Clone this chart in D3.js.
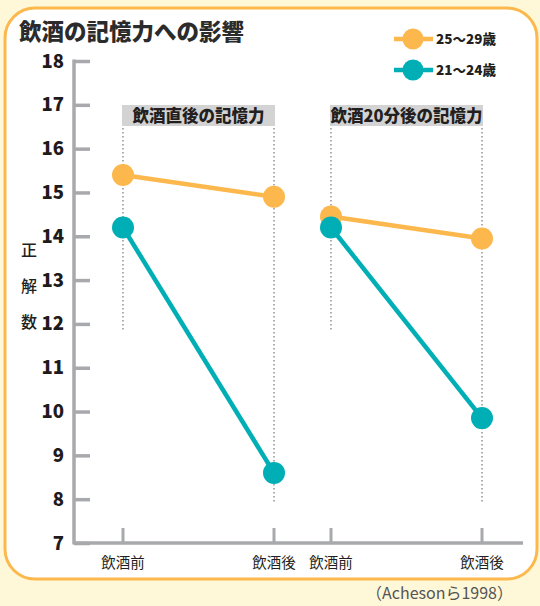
<!DOCTYPE html>
<html><head><meta charset="utf-8">
<script src="https://cdn.jsdelivr.net/npm/d3@7"></script>
<style>
html,body{margin:0;padding:0;background:#FFF8D8;}
svg{display:block;}
text{font-family:"Noto Sans CJK JP","Noto Sans",sans-serif;}
</style></head>
<body>
<svg id="c" width="540" height="606"></svg>
<script>
const title = "飲酒の記憶力への影響";
const groups = ["飲酒直後の記憶力", "飲酒20分後の記憶力"];
const stages = ["飲酒前", "飲酒後"];
const seriesNames = ["25〜29歳", "21〜24歳"];
const seriesColors = ["#FCB84C", "#00AFB5"];
// values per series: [group1 before, group1 after, group2 before, group2 after]
const older = [15.4, 14.9, 14.45, 13.95];
const younger = [14.2, 8.6, 14.2, 9.85];
const yTicks = [7,8,9,10,11,12,13,14,15,16,17,18];
const yLabel = ["正","解","数"];
const source = "（Achesonら1998）";

const svg = d3.select("#c");
// panel
svg.append("rect").attr("x",5).attr("y",8).attr("width",532).attr("height",571)
  .attr("rx",30).attr("ry",30).attr("fill","#fff").attr("stroke","#FCB84C").attr("stroke-width",3);

svg.append("text").attr("x",19).attr("y",40).attr("font-size",22.5).attr("font-weight",900)
  .attr("fill","#2b2b2b").text(title);

const y = d3.scaleLinear().domain([7,18]).range([543,61]);
const xg = d3.scalePoint().domain(groups).range([123,331]);
const xs = d3.scalePoint().domain(stages).range([0,151]);
const X = (gi, si) => xg(groups[gi]) + xs(stages[si]);

const axisColor = "#A8A9AD";
// y axis
const yAxis = d3.axisRight(y).tickValues(yTicks).tickSize(16).tickFormat("");
const ya = svg.append("g").attr("transform","translate(74,0)").call(yAxis);
ya.select(".domain").remove();
ya.selectAll(".tick line").attr("stroke",axisColor).attr("stroke-width",3.5);
svg.append("line").attr("x1",74).attr("x2",74).attr("y1",y(18)-1.5).attr("y2",y(7)+1.5)
  .attr("stroke",axisColor).attr("stroke-width",3.5);
svg.selectAll(".ytl").data(yTicks).join("text").attr("class","ytl")
  .attr("x",64).attr("y",d=>y(d)+6.5).attr("text-anchor","end")
  .attr("font-size",18.5).attr("font-weight",800).attr("fill","#1f1b1c")
  .attr("font-family","'Open Sans','Noto Sans',sans-serif").text(d=>d);

// x axis
const xPos = [];
groups.forEach((g,gi)=>stages.forEach((s,si)=>xPos.push({g:gi,s:si,label:s})));
svg.append("line").attr("x1",74).attr("x2",523).attr("y1",543).attr("y2",543)
  .attr("stroke",axisColor).attr("stroke-width",3.5);
svg.selectAll(".xt").data(xPos).join("line").attr("class","xt")
  .attr("x1",d=>X(d.g,d.s)).attr("x2",d=>X(d.g,d.s)).attr("y1",543).attr("y2",528)
  .attr("stroke",axisColor).attr("stroke-width",3);
svg.selectAll(".xtl").data(xPos).join("text").attr("class","xtl")
  .attr("x",d=>X(d.g,d.s)).attr("y",568).attr("text-anchor","middle")
  .attr("font-size",14.5).attr("fill","#231f20").text(d=>d.label);

// dotted guide lines
svg.selectAll(".guide").data(xPos).join("line").attr("class","guide")
  .attr("x1",d=>X(d.g,d.s)).attr("x2",d=>X(d.g,d.s))
  .attr("y1",128).attr("y2",d=>d.s===0?332:504)
  .attr("stroke","#9a9a9a").attr("stroke-width",1.6).attr("stroke-dasharray","1.6,2.4");

// group label boxes
groups.forEach((g,gi)=>{
  const x0 = X(gi,0)-1, x1 = X(gi,1)+1;
  svg.append("rect").attr("x",x0).attr("y",105).attr("width",x1-x0).attr("height",21).attr("fill","#D3D3D4");
  svg.append("text").attr("x",(x0+x1)/2).attr("y",122).attr("text-anchor","middle")
    .attr("font-size",16.5).attr("font-weight",900).attr("fill","#231f20").text(g);
});

// y label
svg.selectAll(".yl").data(yLabel).join("text").attr("class","yl")
  .attr("x",29).attr("y",(d,i)=>[256,292,328][i]).attr("text-anchor","middle")
  .attr("font-size",16).attr("font-weight",500).attr("fill","#231f20").text(d=>d);

// series
const series = [older, younger];
series.forEach((vals,k)=>{
  const col = seriesColors[k];
  groups.forEach((g,gi)=>{
    const pts = stages.map((s,si)=>[X(gi,si), y(vals[gi*2+si])]);
    svg.append("path").attr("d",d3.line()(pts)).attr("stroke",col).attr("stroke-width",4.5).attr("fill","none");
  });
});
series.forEach((vals,k)=>{
  const col = seriesColors[k];
  svg.selectAll(".pt"+k).data(vals).join("circle").attr("class","pt"+k)
    .attr("cx",(d,i)=>X(Math.floor(i/2), i%2)).attr("cy",d=>y(d)).attr("r",11).attr("fill",col);
});

// legend
seriesNames.forEach((n,k)=>{
  const ly = 39 + k*31;
  svg.append("line").attr("x1",394).attr("x2",433).attr("y1",ly).attr("y2",ly)
    .attr("stroke",seriesColors[k]).attr("stroke-width",4.5);
  svg.append("circle").attr("cx",413).attr("cy",ly).attr("r",10.5).attr("fill",seriesColors[k]);
  svg.append("text").attr("x",436).attr("y",ly+5).attr("font-size",13.5).attr("font-weight",900)
    .attr("fill","#231f20").text(n);
});

svg.append("text").attr("x",513).attr("y",599).attr("text-anchor","end")
  .attr("font-size",16).attr("fill","#555").text(source);
</script>
</body></html>
